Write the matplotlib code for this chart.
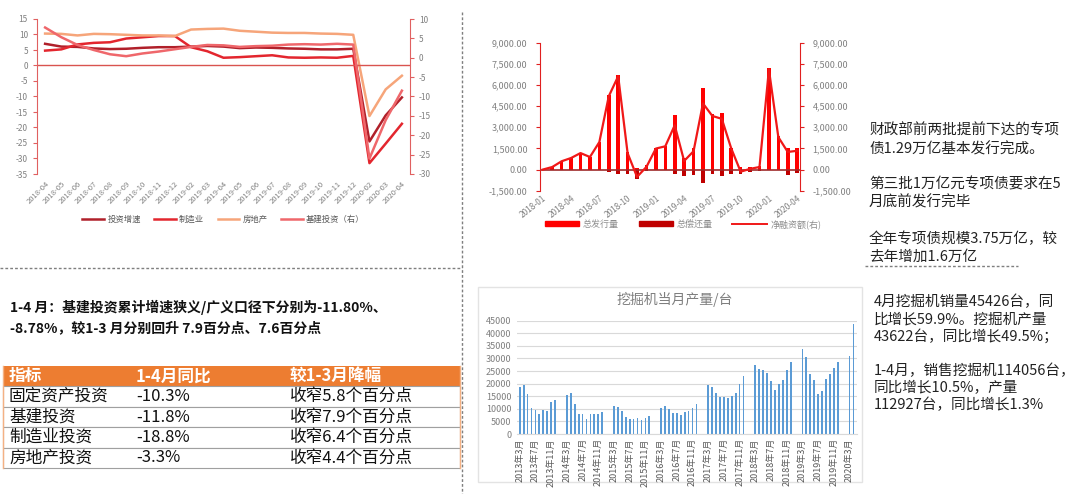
import numpy as np
import pandas as pd
import matplotlib
matplotlib.use('Agg')
import matplotlib.pyplot as plt
from matplotlib.ticker import FuncFormatter
from matplotlib.patches import Rectangle, Patch
from matplotlib.lines import Line2D

plt.rcParams['font.family'] = ['Noto Sans CJK SC', 'DejaVu Sans']
plt.rcParams['axes.unicode_minus'] = False

W, H = 1080, 494
GRAY = '#808080'

# ---------------- data: investment growth (%), top-left chart
inv_months = ['2018-04', '2018-05', '2018-06', '2018-07', '2018-08', '2018-09', '2018-10',
              '2018-11', '2018-12', '2019-02', '2019-03', '2019-04', '2019-05', '2019-06',
              '2019-07', '2019-08', '2019-09', '2019-10', '2019-11', '2019-12', '2020-02',
              '2020-03', '2020-04']
inv_total = [7.0, 6.1, 6.0, 5.5, 5.3, 5.4, 5.7, 5.9, 5.9, 6.1, 6.3, 6.1, 5.6, 5.8, 5.7,
             5.5, 5.4, 5.2, 5.2, 5.4, -24.5, -16.1, -10.3]
inv_mfg = [4.8, 5.2, 6.8, 7.3, 7.5, 8.7, 9.1, 9.5, 9.5, 5.9, 4.6, 2.5, 2.7, 3.0, 3.3,
           2.6, 2.5, 2.6, 2.5, 3.1, -31.5, -25.2, -18.8]
inv_realty = [10.3, 10.2, 9.7, 10.2, 10.1, 9.9, 9.7, 9.7, 9.5, 11.6, 11.8, 11.9, 11.2, 10.9,
              10.6, 10.5, 10.5, 10.3, 10.2, 9.9, -16.3, -7.7, -3.3]
inv_infra = [7.8, 5.3, 3.3, 2.0, 0.9, 0.4, 1.1, 1.6, 2.2, 2.8, 3.3, 3.2, 2.8, 3.0, 3.1,
             3.4, 3.5, 3.4, 3.6, 3.4, -26.0, -16.1, -8.5]

# ---------------- data: special bonds (亿元), top-middle chart
bond_months = [p.strftime('%Y-%m') for p in pd.period_range('2018-01', '2020-04', freq='M')]
bond_issue = [0, 180, 600, 820, 1180, 900, 1960, 5270, 6690, 1250, 140, 300,
              1520, 1700, 3850, 800, 1500, 5760, 3950, 4000, 1550, 150, 200, 280,
              7180, 2390, 1540, 1540]
bond_repay = [0, 0, -30, -60, -30, -50, -40, -170, -285, -330, -640, -100,
              -20, -40, -330, -450, -400, -950, -300, -450, -300, -280, -150, -100,
              -20, -30, -380, -250]
bond_net = [0, 180, 590, 820, 1170, 890, 1950, 5200, 6620, 1160, -520, 190,
            1490, 1650, 3140, 610, 1300, 4690, 3800, 3600, 1500, -150, 50, 180,
            7100, 2300, 1250, 1330]

# ---------------- data: excavator monthly output (台), Mar-Dec each year
exc_2013 = [18500, 19600, 15900, 10500, 9500, 8000, 9700, 9300, 12800, 13600]
exc_2014 = [15500, 16100, 11800, 8000, 7800, 6000, 7900, 8100, 8000, 8800]
exc_2015 = [11000, 10600, 9000, 6600, 6100, 5800, 6500, 5500, 6400, 7200]
exc_2016 = [10300, 11300, 10000, 8200, 8300, 7600, 8600, 9000, 10500, 12000]
exc_2017 = [19400, 18500, 16400, 14800, 14600, 14200, 15100, 16100, 19800, 23000]
exc_2018 = [27300, 25900, 25600, 24300, 21000, 17500, 19800, 21400, 25300, 28700]
exc_2019 = [33700, 30600, 23900, 21500, 15700, 17200, 21800, 24000, 26100, 28700]
exc_2020 = [31000, 43600]

# ---------------- table
tbl_header = ['指标', '1-4月同比', '较1-3月降幅']
tbl_names = ['固定资产投资', '基建投资', '制造业投资', '房地产投资']
tbl_yoy = ['-10.3%', '-11.8%', '-18.8%', '-3.3%']
tbl_change = ['收窄5.8个百分点', '收窄7.9个百分点', '收窄6.4个百分点', '收窄4.4个百分点']

note_bonds = ['财政部前两批提前下达的专项', '债1.29万亿基本发行完成。', '',
              '第三批1万亿元专项债要求在5', '月底前发行完毕', '',
              '全年专项债规模3.75万亿，较', '去年增加1.6万亿']
note_exc = ['4月挖掘机销量45426台，同', '比增长59.9%。挖掘机产量', '43622台，同比增长49.5%；', '',
            '1-4月，销售挖掘机114056台，', '同比增长10.5%，产量', '112927台，同比增长1.3%']
headline = ['1-4 月：基建投资累计增速狭义/广义口径下分别为-11.80%、',
            '-8.78%，较1-3 月分别回升 7.9百分点、7.6百分点']


def box(x0, y0, x1, y1):
    return [x0 / W, 1 - y1 / H, (x1 - x0) / W, (y1 - y0) / H]


fig = plt.figure(figsize=(W / 100, H / 100), dpi=100)

# background layer in pixel coordinates (separators, texts, table)
bg = fig.add_axes([0, 0, 1, 1])
bg.set_xlim(0, W)
bg.set_ylim(H, 0)
bg.axis('off')

dash = dict(color='#7F7F7F', lw=1.0, ls=(0, (2, 1.5)))
bg.plot([462, 462], [12, 494], **dash)
bg.plot([0, 462], [268, 268], **dash)
bg.plot([865, 1018], [266, 266], **dash)

for i, s in enumerate(note_bonds):
    bg.text(869, 131 + i * 17.9, s, fontsize=10.5, color='#222222', va='center')
for i, s in enumerate(note_exc):
    bg.text(874, 302 + i * 17.2, s, fontsize=10.5, color='#222222', va='center')
for i, s in enumerate(headline):
    bg.text(10, 307 + i * 21, s, fontsize=10, fontweight='bold', color='#111111', va='center')

# table
row_top, row_h = 366, 20.4
col_x = [9, 136, 290]
bg.add_patch(Rectangle((3, row_top), 457, row_h, facecolor='#ED7D31', edgecolor='none'))
for cx, s in zip(col_x, tbl_header):
    bg.text(cx, row_top + row_h / 2, s, fontsize=12, fontweight='bold', color='white', va='center')
for r, row in enumerate(zip(tbl_names, tbl_yoy, tbl_change)):
    y0 = row_top + (r + 1) * row_h
    bg.add_patch(Rectangle((3, y0), 457, row_h, facecolor='white', edgecolor='#A0A0A0', lw=0.8))
    for cx, s in zip(col_x, row):
        bg.text(cx, y0 + row_h / 2, s, fontsize=12, color='#111111', va='center')
bg.plot([3, 3], [row_top, row_top + 5 * row_h], color='#F4B183', lw=1)
bg.plot([460, 460], [row_top, row_top + 5 * row_h], color='#F4B183', lw=1)

# frame of excavator chart
bg.add_patch(Rectangle((478, 287), 384, 195, facecolor='none', edgecolor='#E3E3E3', lw=1))

# ---------------- chart 1: investment growth
red_sp = '#E06060'
ax1 = fig.add_axes(box(37, 19, 410, 174))
x1 = np.arange(len(inv_months))
l1, = ax1.plot(x1, inv_total, color='#B0202A', lw=1.8, label='投资增速')
l2, = ax1.plot(x1, inv_mfg, color='#E3262E', lw=1.8, label='制造业')
l3, = ax1.plot(x1, inv_realty, color='#F6A57A', lw=1.8, label='房地产')
ax1.axhline(0, color='#D9534F', lw=1)
ax1.set_ylim(-35, 15)
ax1.set_yticks(range(-35, 16, 5))
ax1.set_xlim(-0.5, len(inv_months) - 0.5)
ax1.set_xticks(x1)
ax1.set_xticklabels(inv_months, rotation=45, ha='right', va='top', rotation_mode='anchor')
ax1r = ax1.twinx()
l4, = ax1r.plot(x1, inv_infra, color='#EF676B', lw=1.8, label='基建投资（右）')
ax1r.set_ylim(-30, 10)
ax1r.set_yticks(range(-30, 11, 5))
for a in (ax1, ax1r):
    a.patch.set_visible(False)
    a.spines['top'].set_visible(False)
    a.spines['bottom'].set_visible(False)
    a.tick_params(axis='y', labelsize=6, colors=GRAY, length=3, color=red_sp)
ax1.spines['right'].set_visible(False)
ax1r.spines['left'].set_visible(False)
ax1.spines['left'].set_color(red_sp)
ax1r.spines['right'].set_color(red_sp)
ax1.tick_params(axis='x', labelsize=5.5, colors=GRAY, length=0, pad=4)
ax1.legend(handles=[l1, l2, l3, l4], loc='center', bbox_to_anchor=(0.5, -0.29), ncol=4,
           frameon=False, fontsize=6, labelcolor='#595959', handlelength=2.6,
           columnspacing=1.6, handletextpad=0.4)

# ---------------- chart 2: special bonds
ax2 = fig.add_axes(box(540, 42.7, 800, 190.7))
x2 = np.arange(len(bond_months))
ax2.bar(x2, bond_issue, width=0.38, color='#FF0000')
ax2.bar(x2, bond_repay, width=0.38, color='#C00000')
ax2.axhline(0, color='#9E2A2A', lw=1.2)
ax2.set_xlim(-0.3, len(bond_months) - 0.7)
ax2.set_xticks(x2[::3])
ax2.set_xticklabels(bond_months[::3], rotation=38, ha='right', va='top', rotation_mode='anchor')
ax2r = ax2.twinx()
ax2r.plot(x2, bond_net, color='#F01818', lw=1.6)
fmt = FuncFormatter(lambda v, p: f'{v:,.2f}')
for a in (ax2, ax2r):
    a.set_ylim(-1500, 9000)
    a.set_yticks(np.arange(-1500, 9001, 1500))
    a.yaxis.set_major_formatter(fmt)
    a.patch.set_visible(False)
    a.spines['top'].set_visible(False)
    a.spines['bottom'].set_visible(False)
    a.tick_params(axis='y', labelsize=6.5, colors=GRAY, length=3, color='#E02020', pad=6)
ax2.spines['right'].set_visible(False)
ax2r.spines['left'].set_visible(False)
ax2.spines['left'].set_color('#E02020')
ax2r.spines['right'].set_color('#E02020')
ax2.tick_params(axis='x', labelsize=6, colors=GRAY, length=0, pad=2)
h2 = [Patch(color='#FF0000', label='总发行量'),
      Patch(color='#C00000', label='总偿还量'),
      Line2D([], [], color='#F01818', lw=1.4, label='净融资额(右)')]
ax2.legend(handles=h2, loc='center', bbox_to_anchor=(0.55, -0.225), ncol=3, frameon=False,
           fontsize=6.5, labelcolor='#8C8C8C', handlelength=3.8, handleheight=0.5,
           columnspacing=2.2, handletextpad=0.4)

# ---------------- chart 3: excavator output
exc = list(exc_2013)
for vals in (exc_2014, exc_2015, exc_2016, exc_2017, exc_2018, exc_2019, exc_2020):
    exc += [np.nan, np.nan] + vals
exc_months = pd.period_range('2013-03', periods=len(exc), freq='M')
exc_labels = [f'{p.year}年{p.month}月' for p in exc_months]

ax3 = fig.add_axes(box(517, 320.7, 857, 434))
x3 = np.arange(len(exc))
ax3.bar(x3, exc, width=0.45, color='#5B9BD5')
ax3.set_ylim(0, 45000)
ax3.set_yticks(range(0, 45001, 5000))
ax3.set_xlim(-0.7, len(exc) - 0.1)
ax3.set_xticks(x3[::4])
ax3.set_xticklabels(exc_labels[::4], rotation=90)
ax3.grid(axis='y', color='#D9D9D9', lw=0.8)
ax3.set_axisbelow(True)
for s in ('top', 'right', 'left'):
    ax3.spines[s].set_visible(False)
ax3.spines['bottom'].set_color('#D9D9D9')
ax3.tick_params(axis='y', labelsize=6.5, colors='#7F7F7F', length=0, pad=4)
ax3.tick_params(axis='x', labelsize=6.5, colors='#595959', length=0, pad=3)
ax3.patch.set_visible(False)
bg.text(675, 299, '挖掘机当月产量/台', fontsize=10, color='#7F7F7F', ha='center', va='center')

fig.savefig('out.png', dpi=100)
